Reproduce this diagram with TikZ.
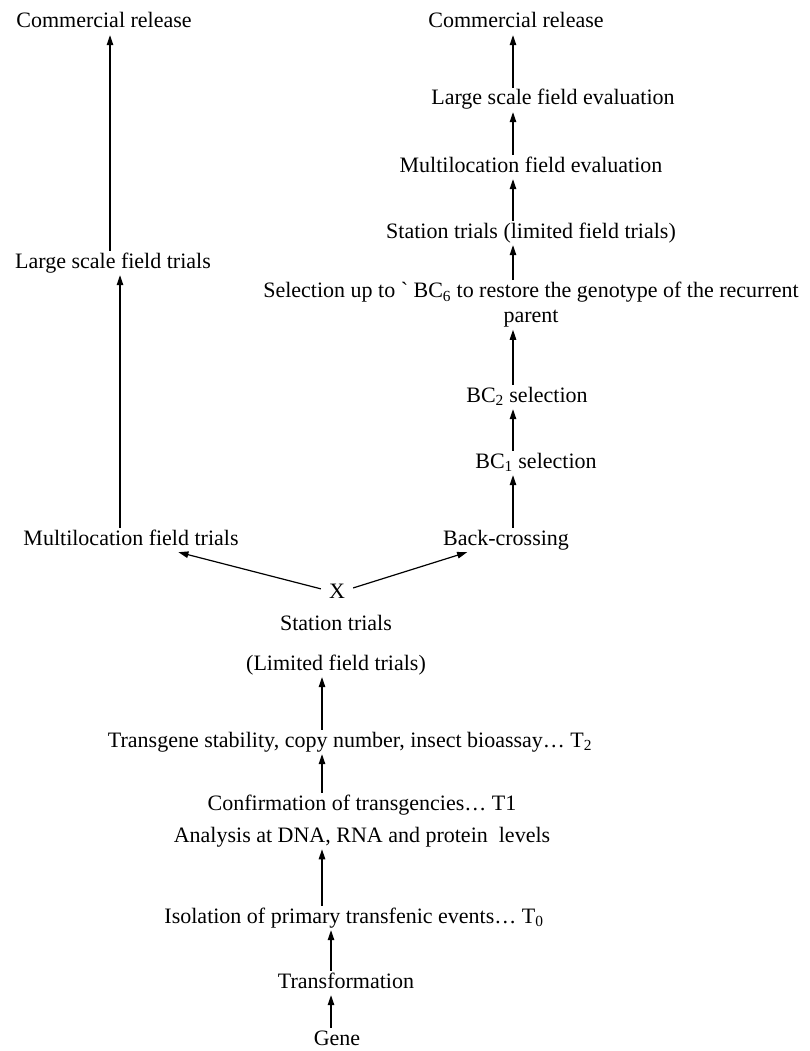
\documentclass[tikz,border=0pt]{standalone}
\usepackage{fontspec}
\setmainfont{Liberation Serif}
\usetikzlibrary{arrows.meta}
\tikzset{% common styles of the flow chart elements
  block/.style = {shape=rectangle, align=center, inner sep=2pt,
                  font=\fontsize{22}{25}\selectfont},
  stage/.style = {block, text height=15pt, text depth=5pt},
  flow/.style  = {draw, line width=1.2pt,
                  -{Triangle[length=10pt,width=6.5pt]}},
}

\begin{document}
\begin{tikzpicture}[x=1pt, y=-1pt]
\useasboundingbox (0,0) rectangle (809,1051);
% axes of the vertical arrows
\coordinate (ax1) at (110,0);
\coordinate (ax2) at (120,0);
\coordinate (ax3) at (322,0);
\coordinate (ax4) at (331,0);
\coordinate (ax5) at (513,0);

% main line, from gene upwards
\node [stage] (gene)  at (337,1040) {Gene};
\node [stage] (trf)   at (346,983)  {Transformation};
\node [stage] (iso)   at (354,918)  {Isolation of primary transfenic events\ldots\ T\textsubscript{0}};
\node [block] (conf)  at (362,821)  {Confirmation of transgencies\ldots\ T1\\[7pt]
                                     Analysis at DNA, RNA and protein\ \ levels};
\node [stage] (stab)  at (350,742)  {Transgene stability, copy number, insect bioassay\ldots\ T\textsubscript{2}};
\node [block] (stat)  at (336,645)  {Station trials\\[15pt](Limited field trials)};
\node [stage, inner sep=8pt] (cross) at (337,593) {X};

% left branch
\node [stage] (mlt)   at (131,540)  {Multilocation field trials};
\node [stage] (lst)   at (113,263)  {Large scale field trials};
\node [stage] (crl)   at (104,23)   {Commercial release};

% right branch
\node [stage] (bkc)   at (506,540)  {Back-crossing};
\node [stage] (bc1)   at (536,463)  {BC\textsubscript{1} selection};
\node [stage] (bc2)   at (527,397)  {BC\textsubscript{2} selection};
\node [block] (sel)   at (531,305)  {Selection up to \textasciigrave\ BC\textsubscript{6} to restore the genotype of the recurrent\\
                                     parent};
\node [stage] (sta)   at (531,233)  {Station trials (limited field trials)};
\node [stage] (mfe)   at (531,167)  {Multilocation field evaluation};
\node [stage] (lfe)   at (553,100)  {Large scale field evaluation};
\node [stage] (crr)   at (516,23)   {Commercial release};

% connectors
\draw [flow] (gene.north -| ax4) -- (trf.south -| ax4);
\draw [flow] (trf.north -| ax4)  -- (iso.south -| ax4);
\draw [flow] (iso.north -| ax3)  -- (conf.south -| ax3);
\draw [flow] (conf.north -| ax3) -- (stab.south -| ax3);
\draw [flow] (stab.north -| ax3) -- (stat.south -| ax3);
\draw [flow] (cross) -- (mlt);
\draw [flow] (cross) -- (bkc);
\draw [flow] (mlt.north -| ax2)  -- (lst.south -| ax2);
\draw [flow] (lst.north -| ax1)  -- (crl.south -| ax1);
\draw [flow] (bkc.north -| ax5)  -- (bc1.south -| ax5);
\draw [flow] (bc1.north -| ax5)  -- (bc2.south -| ax5);
\draw [flow] (bc2.north -| ax5)  -- (sel.south -| ax5);
\draw [flow] (sel.north -| ax5)  -- (sta.south -| ax5);
\draw [flow] (sta.north -| ax5)  -- (mfe.south -| ax5);
\draw [flow] (mfe.north -| ax5)  -- (lfe.south -| ax5);
\draw [flow] (lfe.north -| ax5)  -- (crr.south -| ax5);
\end{tikzpicture}
\end{document}
